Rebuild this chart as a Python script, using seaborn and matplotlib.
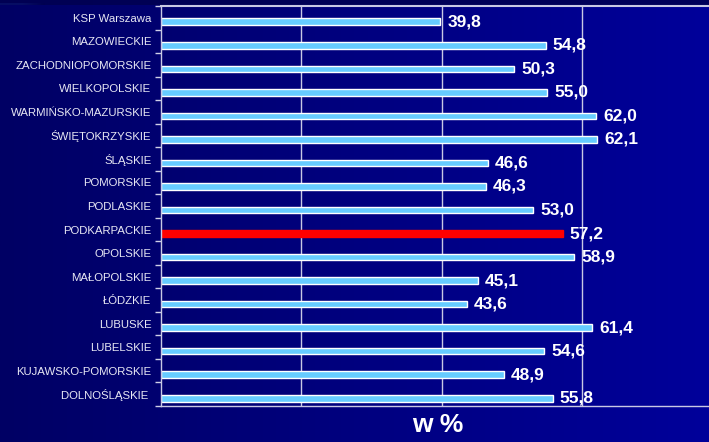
import numpy as np
import pandas as pd
import matplotlib
matplotlib.use("Agg")
import matplotlib.pyplot as plt
import seaborn as sns
from matplotlib.colors import LinearSegmentedColormap
from matplotlib.patches import Rectangle

regions = ["KSP Warszawa", "MAZOWIECKIE", "ZACHODNIOPOMORSKIE", "WIELKOPOLSKIE",
           "WARMIŃSKO-MAZURSKIE", "ŚWIĘTOKRZYSKIE", "ŚLĄSKIE", "POMORSKIE",
           "PODLASKIE", "PODKARPACKIE", "OPOLSKIE", "MAŁOPOLSKIE", "ŁÓDZKIE",
           "LUBUSKE", "LUBELSKIE", "KUJAWSKO-POMORSKIE", "DOLNOŚLĄSKIE"]
values = [39.8, 54.8, 50.3, 55.0, 62.0, 62.1, 46.6, 46.3, 53.0, 57.2, 58.9,
          45.1, 43.6, 61.4, 54.6, 48.9, 55.8]
highlight = "PODKARPACKIE"
grid_ticks = [20, 40, 60]
x_label = "w %"

sns.set_theme(style="white")
plt.rcParams["font.family"] = ["Liberation Sans", "DejaVu Sans"]

W, H = 709, 442
fig = plt.figure(figsize=(W / 100, H / 100), dpi=100)

# gradient background
bg = fig.add_axes([0, 0, 1, 1], zorder=0)
grad = np.linspace(0, 1, 256).reshape(1, -1)
cmap = LinearSegmentedColormap.from_list("bg", ["#000064", "#00009A"])
bg.imshow(grad, aspect="auto", cmap=cmap, extent=[0, 1, 0, 1])
bg.add_patch(Rectangle((0, 1 - 5 / H), 1, 5 / H, color="#000050", alpha=0.85, lw=0))
stripe = LinearSegmentedColormap.from_list("st", ["#2A5AD0", "#2A5AD0", "#000050"])
bg.imshow(grad, aspect="auto", cmap=stripe,
          extent=[0, 45 / W, 1 - 5 / H, 1 - 3 / H])
bg.set_xlim(0, 1)
bg.set_ylim(0, 1)
bg.axis("off")

ax = fig.add_axes([161 / W, 1 - 406 / H, (W - 161) / W, 400 / H], zorder=1)
ax.patch.set_alpha(0)

df = pd.DataFrame({"region": regions, "value": values})
palette = {r: ("#FF0000" if r == highlight else "#66CCFF") for r in regions}
sns.barplot(data=df, y="region", x="value", hue="region", order=regions,
            palette=palette, legend=False, width=0.28, saturation=1,
            edgecolor="white", linewidth=1.0, ax=ax)
for p in ax.patches:
    fc = p.get_facecolor()
    if fc[0] > 0.9 and fc[1] < 0.1:
        p.set_edgecolor("#FF0000")

n = len(regions)
s = 0.17
ax.set_ylim(n - 0.5 - s, -0.5 - s)
ax.set_xlim(0, (W - 161) / 7.02)

ylabels = [r + " " if r == "DOLNOŚLĄSKIE" else r for r in regions]
ax.set_yticks(np.arange(n) - s, labels=ylabels)
ax.set_yticks(np.arange(-1, n) + 0.5 - s, minor=True)
ax.tick_params(axis="y", which="major", length=0, pad=7, labelsize=8.2,
               labelcolor="#E8E8F4")
ax.tick_params(axis="y", which="minor", length=4, width=1, color="#D0D0E8",
               direction="out", left=True)
ax.set_ylabel("")

ax.set_xticks(grid_ticks, labels=[""] * len(grid_ticks))
ax.tick_params(axis="x", length=0)
ax.grid(axis="x", color="#C8C8E4", linewidth=1)
ax.set_axisbelow(True)

for side in ["top", "bottom", "left"]:
    ax.spines[side].set_color("#C8C8E4")
    ax.spines[side].set_linewidth(1)
ax.spines["top"].set_linewidth(1.5)
ax.spines["right"].set_visible(False)

for c in ax.containers:
    ax.bar_label(c, fmt=lambda v: f"{v:.1f}".replace(".", ","), padding=5,
                 color="white", fontsize=12.5, fontweight="bold",
                 family="Liberation Sans")

ax.set_xlabel(x_label, color="white", fontsize=19, fontweight="bold",
              family="Liberation Sans", labelpad=3)
ax.xaxis.set_label_coords(0.5 + 3 / (W - 161), -7 / 400, transform=ax.transAxes)
ax.xaxis.label.set_va("top")

fig.savefig("out.png", dpi=100)
